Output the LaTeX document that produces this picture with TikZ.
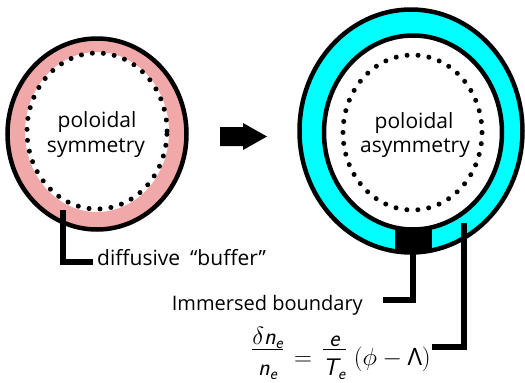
\documentclass[tikz,border=0pt]{standalone}
\usepackage{amsmath}
\usepackage{fontspec}
\setmainfont{Open Sans}
\newcommand\sn[1]{\text{\sffamily\itshape #1}}
\newcommand\fr[2]{\frac{\displaystyle #1}{\lower 11pt\hbox{$\displaystyle #2$}}}
\definecolor{pinkc}{RGB}{240,168,168}
\definecolor{cyanc}{RGB}{0,255,255}
\tikzset{
  ringline/.style={line width=4.5pt},
  dotline/.style={line width=5pt, line cap=round, dash pattern=on 0pt off 11pt},
  leader/.style={line width=5.5pt},
  txt/.style={font=\fontsize{21}{25}\selectfont, inner sep=0pt},
}
\begin{document}
\begin{tikzpicture}[x=1pt,y=-1pt]
\useasboundingbox (0,0) rectangle (525,383);
\fill[white] (0,0) rectangle (525,383);
% left ring
\fill[pinkc, even odd rule] (97,134) ellipse [x radius=89.5pt, y radius=95.5pt]
  (97,132) ellipse [x radius=72pt, y radius=80pt];
\draw[ringline] (97,134) ellipse [x radius=89.5pt, y radius=95.5pt];
\draw[dotline] (97,131) ellipse [x radius=70pt, y radius=78pt];
% arrow
\fill (220,127) -- (243,127) -- (243,123) -- (267,136.5) -- (243,150) -- (243,146) -- (220,146) -- cycle;
% right ring
\fill[cyanc] (411,131) ellipse [x radius=111.5pt, y radius=121.5pt];
\begin{scope}
  \clip (411,131) ellipse [x radius=111.5pt, y radius=121.5pt];
  \fill (395,200) rectangle (432,262);
\end{scope}
\fill[white] (413,132.5) ellipse [x radius=89pt, y radius=97pt];
\draw[ringline] (411,131) ellipse [x radius=111.5pt, y radius=121.5pt];
\draw[ringline] (413,132.5) ellipse [x radius=89pt, y radius=97pt];
\draw[dotline] (412.5,132.5) ellipse [x radius=69.5pt, y radius=77.5pt];
% texts
\node[txt, anchor=base] (p1) at (97,127) {poloidal};
\node[txt, anchor=base] (s1) at (96,152) {symmetry};
\node[txt, anchor=base] (p2) at (414,128) {poloidal};
\node[txt, anchor=base] (s2) at (415,152) {asymmetry};
\node[txt, anchor=base west] (diff) at (97,265) {diffusive\hspace{10pt}“buffer”};
\node[txt, anchor=base east, font=\fontsize{20}{24}\selectfont] (imm) at (363,310) {Immersed boundary};
\node[inner sep=0pt, anchor=base east, font=\fontsize{24}{28}\selectfont] (eq) at (431,365)
  {$\raisebox{9pt}{$\fr{\delta \sn{n}_{\sn{e}}}{\sn{n}_{\sn{e}}}$}\mkern2mu \mathrel{=}\mkern2mu \raisebox{9pt}{$\fr{\sn{e}}{\sn{T}_{\sn{e}}}$}\;(\phi - \text{\rmfamily Λ})$};
% leaders
\coordinate (a1) at (63,210);
\coordinate (a2) at (93,262);
\draw[leader] (a1) |- (a2);
\coordinate (b1) at (413,250);
\coordinate (b2) at (383,300);
\draw[leader] (b1) |- (b2);
\coordinate (c1) at (464,223);
\coordinate (c2) at (432,347);
\draw[leader] (c1) |- (c2);
\end{tikzpicture}
\end{document}
